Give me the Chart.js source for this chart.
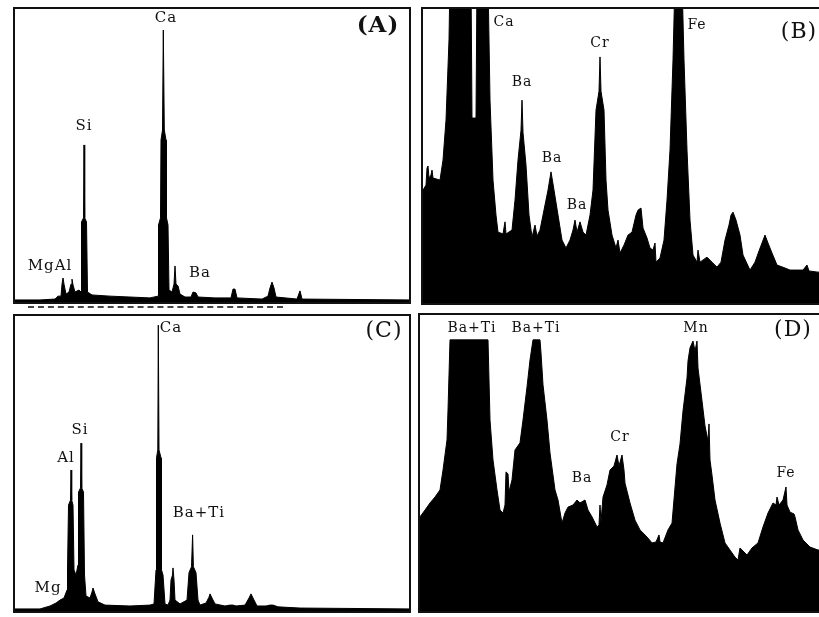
<!DOCTYPE html>
<html>
<head>
<meta charset="utf-8">
<script src="https://cdn.jsdelivr.net/npm/chart.js@4.4.1/dist/chart.umd.min.js"></script>
<style>
  html, body { margin: 0; padding: 0; width: 819px; height: 617px; overflow: hidden; background: #fff; }
  .box { position: absolute; border: 2px solid #111; box-sizing: border-box; }
  .box canvas { display: block; }
  .scanline { position: absolute; left: 28px; top: 306px; width: 255px; border-top: 2px dashed #444; }
</style>
</head>
<body>
<div class="box" style="left:13px;top:7px;width:398px;height:297px"><canvas id="chartA" width="394" height="293"></canvas></div>
<div class="box" style="left:421px;top:7px;width:430px;height:298px"><canvas id="chartB" width="426" height="294"></canvas></div>
<div class="box" style="left:13px;top:314px;width:398px;height:299px"><canvas id="chartC" width="394" height="295"></canvas></div>
<div class="box" style="left:418px;top:313px;width:430px;height:300px"><canvas id="chartD" width="426" height="296"></canvas></div>
<div class="scanline"></div>
<script>
// spectrum (A): channel vs counts (% of full scale)
const chanA = [0,25,40,43,46,47,48,49,51,54,56,57,58,60,64,66,66.5,68.5,69,69.7,71.5,72.5,77,95,115,135,143,143.5,145.5,146,147.5,148.3,149.3,151,151.5,153,154,157,159,160,161,163,165,170,176,178,181,183,200,216,218,220,222,247,253,255,257,259,261,282,285,287,395];
const cntA = [0.7,0.7,1.0,2.0,2.0,6.1,8.2,6.1,2.7,3.4,6.1,7.8,5.8,3.4,4.1,3.4,27.3,28.7,53.6,28.7,27.3,3.4,2.4,2.0,1.7,1.4,2.0,26.3,28.7,55.3,58.7,92.8,58.7,55.3,28.7,26.3,4.1,3.4,6.1,12.3,6.1,5.5,2.7,1.7,1.7,3.4,3.1,1.7,1.4,1.4,4.4,4.4,1.4,1.0,2.0,4.8,6.8,4.8,1.7,1.0,3.8,1.0,0.7];
const peaksA = ['Ca', 'Si', 'MgAl', 'Ba'];
const peakChanA = [151, 69, 35, 185];
const peakCntA = [96.9, 60.1, 12.3, 9.9];

// spectrum (B): expanded scale, Ca and Fe go off the top
const chanB = [0,3,4,5,6,8,9,10,17,20,23,26,27,48,49,53,54,65,67,70,73,75,80,82,83,89,92,95,98,99,100,103,106,109,112,114,117,121,125,128,131,135,139,143,147,150,152,154,157,160,163,167,170,173,176,177,178,181,183,185,189,193,195,197,201,205,209,213,215,218,220,224,227,230,232,233,237,241,244,247,250,252,259,261,264,267,270,274,275,277,284,289,294,298,302,306,308,310,313,317,320,327,332,336,339,342,345,349,354,362,367,380,384,386,395,426];
const cntB = [38.4,40.1,45.9,46.6,42.5,43.5,45.2,42.5,41.8,48.6,62.2,89.5,110,110,62.9,62.9,110,110,69.0,41.8,29.9,24.1,23.5,27.6,23.5,24.8,35.0,48.6,58.8,69.0,58.0,46.9,29.9,22.4,26.5,22.8,24.8,31.6,38.4,44.6,38.4,29.9,21.4,18.7,21.4,24.8,28.2,24.1,27.6,24.1,23.1,29.9,38.4,65.6,72.0,83.7,72.0,65.6,41.8,31.6,23.1,18.7,21.4,17.0,19.7,23.1,24.1,29.9,31.6,32.3,25.5,22.1,18.7,18.0,20.4,13.9,15.3,21.4,35.0,52.0,82.7,110,110,82.7,52.0,28.2,16.3,13.9,18.0,13.9,15.6,13.9,12.2,13.9,21.4,26.5,29.9,30.9,28.2,23.1,16.3,11.2,13.9,17.7,20.4,23.1,20.4,17.0,12.9,11.9,11.2,11.2,12.9,10.9,10.5,10.5];
const peaksB = ['Ca', 'Ba', 'Ba', 'Ba', 'Cr', 'Fe'];
const peakChanB = [81, 99, 129, 154, 177, 274];
const peakCntB = [95.6, 75.2, 49.3, 33.3, 88.4, 94.6];

// spectrum (C)
const chanC = [0,25,35,41,45,49,52,52.5,53.5,55.5,56,56.7,58,59,61,63,63.5,65.5,66,66.7,68.5,69.5,71,75,77,78,80,83,90,115,135,139,141,141.5,142.8,143.3,144,146,146.5,148,150,153,155,156,157.5,158,159,160,165,172,174,176.5,177.6,178.4,181,183,185,191,194,195,197,200,210,215,218,221,230,234,236,238,242,251,255,258,263,285,395];
const cntC = [0.7,0.7,1.7,2.7,3.7,4.4,7.1,13.9,35.9,37.6,47.8,37.6,35.9,13.9,12.2,15.6,40.3,41.7,56.9,41.7,40.3,12.2,5.1,4.4,6.4,7.8,5.8,3.1,2.0,1.7,2.0,2.4,13.9,51.9,54.6,96.9,54.6,51.9,13.9,12.2,2.4,2.0,3.7,10.5,12.2,14.6,10.5,3.7,2.4,3.7,13.0,15.0,25.8,15.0,13.0,3.7,2.0,2.7,4.7,5.8,4.4,2.4,1.7,2.0,2.0,1.7,2.0,4.4,5.8,4.4,1.7,1.7,2.0,2.0,1.4,1.0,0.7];
const peaksC = ['Ca', 'Si', 'Al', 'Mg', 'Ba+Ti'];
const peakChanC = [156, 65, 51, 33, 184];
const peakCntC = [95.9, 61.4, 51.9, 7.8, 33.2];

// spectrum (D): expanded scale
const chanD = [0,5,10,15,20,23,27,28,30,68,70,73,77,80,83,85,86,88,89,92,95,100,103,107,110,113,120,121,123,127,130,135,138,142,145,148,153,157,160,165,168,172,177,179,180,181,183,187,190,194,197,199,202,204,205,210,215,220,227,232,236,239,240,243,248,252,257,260,263,267,268,270,273,275,277,278,282,285,288,289,290,292,295,300,305,310,315,318,320,327,332,338,343,348,353,356,357,359,363,366,367,370,374,375,378,383,390,398,429];
const cntD = [31.8,34.1,36.5,38.5,40.9,47.6,57.8,67.9,91.6,91.6,64.5,51.0,40.9,34.1,33.1,35.8,47.0,46.3,40.2,44.3,54.4,56.8,64.5,75.7,84.8,91.6,91.6,87.2,76.4,64.5,53.4,40.9,37.5,29.7,33.1,35.1,35.8,37.5,36.5,37.5,34.1,31.8,28.4,29.1,35.8,30.1,38.5,42.6,47.6,49.0,52.7,49.0,52.7,47.6,43.2,36.5,30.7,27.4,25.0,23.0,23.3,25.7,23.3,23.0,27.4,29.7,49.7,56.4,67.6,78.7,84.5,88.9,91.2,87.8,91.2,82.1,71.0,62.5,57.4,63.2,51.0,45.9,37.5,29.7,23.0,20.6,18.2,17.2,21.3,18.9,21.3,23.0,28.4,33.1,36.5,35.8,38.5,35.8,37.5,41.9,35.8,33.4,32.8,31.8,27.4,24.0,21.6,20.6,20.6];
const peaksD = ['Ba+Ti', 'Ba+Ti', 'Ba', 'Cr', 'Mn', 'Fe'];
const peakChanD = [52, 116, 162, 200, 276, 366];
const peakCntD = [95.6, 95.6, 44.9, 58.8, 95.6, 46.6];

function labelPlugin(names, chans, cnts, font, tag, tagChan, tagCnt, tagFont) {
  return {
    id: 'peakLabels',
    afterDatasetsDraw(chart) {
      const ctx = chart.ctx;
      const x = chart.scales.x, y = chart.scales.y;
      ctx.save();
      ctx.fillStyle = '#111';
      ctx.textAlign = 'center';
      ctx.textBaseline = 'middle';
      ctx.font = font;
      ctx.letterSpacing = '1px';
      names.forEach(function(n, i) {
        ctx.fillText(n, x.getPixelForValue(chans[i]), y.getPixelForValue(cnts[i]));
      });
      ctx.font = tagFont;
      ctx.letterSpacing = '1px';
      ctx.fillText(tag, x.getPixelForValue(tagChan), y.getPixelForValue(tagCnt));
      ctx.restore();
    }
  };
}

function drawSpectrum(id, chans, cnts, maxChan, plugin) {
  new Chart(document.getElementById(id), {
    type: 'line',
    data: {
      datasets: [{
        data: chans.map(function(c, i) { return { x: c, y: cnts[i] }; }),
        borderColor: '#000',
        backgroundColor: '#000',
        borderWidth: 1,
        fill: 'origin',
        pointRadius: 0,
        tension: 0
      }]
    },
    options: {
      responsive: false,
      animation: false,
      events: [],
      layout: { padding: 0 },
      plugins: { legend: { display: false }, tooltip: { enabled: false } },
      scales: {
        x: { type: 'linear', display: false, min: 0, max: maxChan },
        y: { display: false, min: 0, max: 100 }
      }
    },
    plugins: [plugin]
  });
}

drawSpectrum('chartA', chanA, cntA, 394,
  labelPlugin(peaksA, peakChanA, peakCntA, '15px "DejaVu Serif"', '(A)', 363, 94.2, 'bold 23px "DejaVu Serif"'));
drawSpectrum('chartB', chanB, cntB, 426,
  labelPlugin(peaksB, peakChanB, peakCntB, '14px "DejaVu Serif"', '(B)', 376, 92.2, '22px "DejaVu Serif"'));
drawSpectrum('chartC', chanC, cntC, 394,
  labelPlugin(peaksC, peakChanC, peakCntC, '15px "DejaVu Serif"', '(C)', 369, 94.9, '22px "DejaVu Serif"'));
drawSpectrum('chartD', chanD, cntD, 426,
  labelPlugin(peaksD, peakChanD, peakCntD, '14px "DejaVu Serif"', '(D)', 373, 94.9, '22px "DejaVu Serif"'));
</script>
</body>
</html>
